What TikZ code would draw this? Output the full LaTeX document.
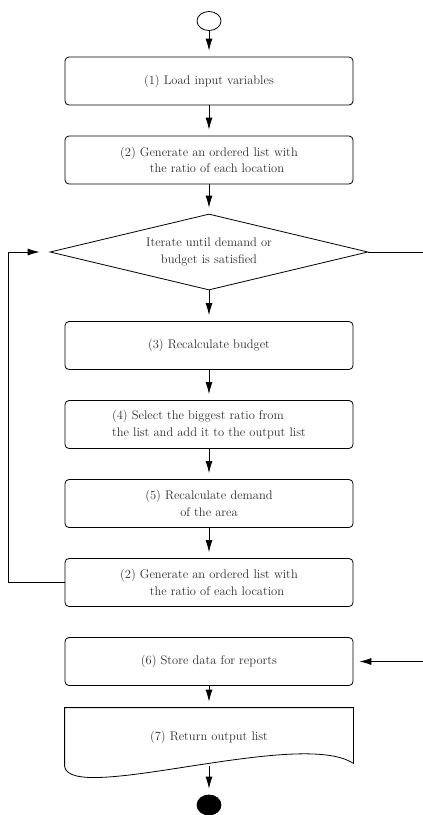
\documentclass[tikz,border=0pt]{standalone}
\usepackage{amsmath}
\usepackage{tikz}
\usetikzlibrary{shapes.geometric,arrows.meta}
\definecolor{flowtext}{RGB}{45,45,45}

\begin{document}
\begin{tikzpicture}[x=1pt, y=-1pt, line width=0.8pt,
  stepbox/.style={rectangle, rounded corners=4pt, draw, minimum width=288pt, minimum height=48pt, align=center, text=flowtext, font=\fontsize{12.5}{16.7}\selectfont},
  decision/.style={diamond, draw, aspect=4.18, minimum width=318pt, minimum height=76pt, inner sep=1pt, align=center, text=flowtext, font=\fontsize{12.5}{16.7}\selectfont},
  flow/.style={-{Latex[length=12pt,width=7pt]}, shorten >=6pt}]
  \useasboundingbox (0,0) rectangle (423,815);
  % Flow of the location selection
  \node[ellipse, draw, minimum width=24pt, minimum height=19pt, inner sep=0pt] (start) at (209, 21) {};
  \node[stepbox] (load) at (209, 81) {(1) Load input variables};
  \node[stepbox] (order) at (209, 160) {(2) Generate an ordered list with\\ \hspace{16pt}the ratio of each location};
  \node[decision] (iterate) at (209, 252) {Iterate until demand or\\ budget is satisfied};
  \node[stepbox] (budget) at (209, 345.5) {(3) Recalculate budget};
  \node[stepbox, align=left] (select) at (209, 424.5) {(4) Select the biggest ratio from\\ the list and add it to the output list};
  \node[stepbox] (demand) at (209, 503.5) {(5) Recalculate demand\\ of the area};
  \node[stepbox] (reorder) at (209, 582.5) {(2) Generate an ordered list with\\ \hspace{16pt}the ratio of each location};
  \node[stepbox] (store) at (209, 661.5) {(6) Store data for reports};
  \node[rectangle, minimum width=288pt, minimum height=58pt, text=flowtext, font=\fontsize{12.5}{16.7}\selectfont] (output) at (209, 737) {(7) Return output list};
  \node[ellipse, draw, fill=black, minimum width=24pt, minimum height=20pt, inner sep=0pt] (stop) at (209, 805) {};

  % document outline of (7)
  \draw (output.south west) -- (output.north west) -- (output.north east) -- ([yshift=3pt]output.south east)
    .. controls (300, 728) and (70, 805) .. (output.south west);

  \coordinate (loopcorner) at (8, 582.5);
  \coordinate (exitright) at (423, 252);
  \coordinate (enterright) at (423, 661.5);

  \draw[flow] (start) -- (load);
  \draw[flow] (load) -- (order);
  \draw[flow] (order) -- (iterate);
  \draw[flow] (iterate) -- (budget);
  \draw[flow] (budget) -- (select);
  \draw[flow] (select) -- (demand);
  \draw[flow] (demand) -- (reorder);
  \draw[flow, shorten >=10pt] (reorder.west) -- (loopcorner) |- (iterate.west);
  \draw (iterate.east) -- (exitright);
  \draw[flow] (enterright) -- (store.east);
  \draw[flow] (store) -- (output.north);
  \draw[flow] (output.south) -- (stop);
\end{tikzpicture}
\end{document}
